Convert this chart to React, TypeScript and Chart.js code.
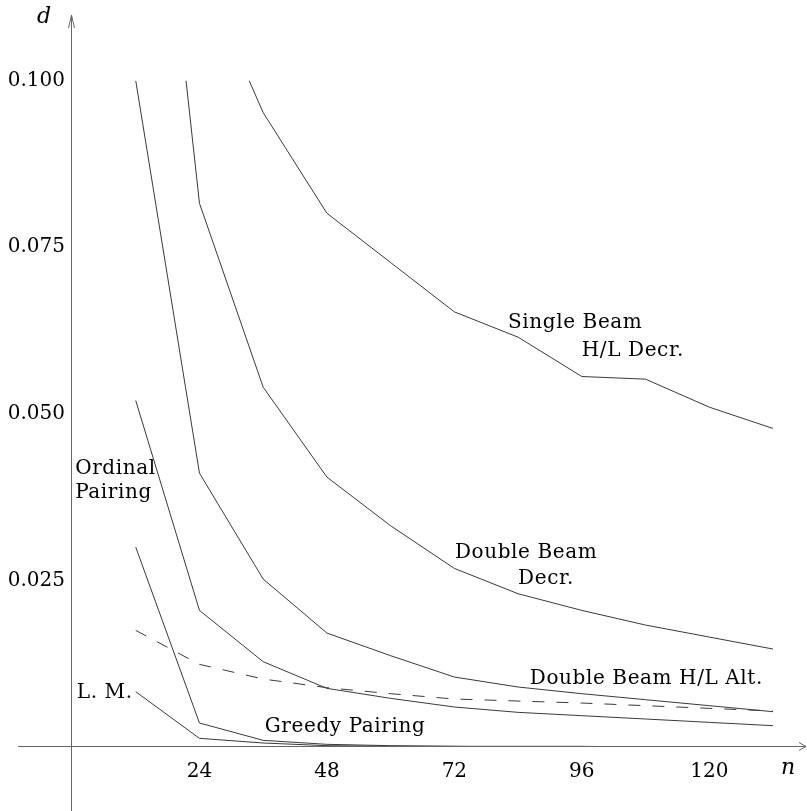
import React, { useEffect, useRef } from "react";
import { Chart, registerables } from "chart.js";

Chart.register(...registerables);

// ---- data ----
const nValues = [12, 24, 36, 48, 60, 72, 84, 96, 108, 120, 132];
const singleBeamHLDecr = [null, 0.117, 0.0952, 0.0801, 0.0727, 0.0653, 0.0615, 0.0556, 0.0552, 0.051, 0.0478];
const doubleBeamDecr = [0.169, 0.0816, 0.054, 0.0405, 0.0332, 0.0268, 0.023, 0.0205, 0.0183, 0.0165, 0.0147];
const doubleBeamHLAlt = [0.1, 0.0411, 0.0252, 0.0171, 0.0137, 0.0105, 0.009, 0.008, 0.0071, 0.0062, 0.0053];
const dashedCurve = [0.0175, 0.0124, 0.0102, 0.0089, 0.008, 0.0072, 0.0069, 0.0066, 0.0062, 0.0058, 0.0054];
const ordinalPairing = [0.052, 0.0205, 0.0128, 0.0088, 0.0073, 0.006, 0.0052, 0.0047, 0.0042, 0.0037, 0.0032];
const greedyPairing = [0.03, 0.0036, 0.001, 0.0004, 0.0002, 0.0001, 0.0001, 0.0001, 0.0, 0.0, 0.0];
const lowerLM = [0.0083, 0.0013, 0.0006, 0.0002, 0.0001, 0.0001, 0.0, 0.0, 0.0, 0.0, 0.0];

const xTicks = [24, 48, 72, 96, 120];
const yTicks = [0.025, 0.05, 0.075, 0.1];
const plotRangeMax = 0.1;

// curve annotations (text, n, d)
const labelTexts = ["Single Beam", "H/L Decr.", "Double Beam", "Decr.", "Double Beam H/L Alt.", "Ordinal", "Pairing", "L. M.", "Greedy Pairing"];
const labelN = [82.1, 96.0, 72.1, 84.0, 86.2, 0.6, 0.6, 0.9, 36.3];
const labelD = [0.0637, 0.0595, 0.0291, 0.0253, 0.0103, 0.0418, 0.0382, 0.0081, 0.003];

const FONT = "'DejaVu Serif', serif";
const LINE = "#3a3a3a";
const AXIS = "#666";

const toPts = (arr: (number | null)[]) => nValues.map((n, i) => ({ x: n, y: arr[i] }));

const clipPlugin = {
  id: "clipTop",
  beforeDatasetsDraw(chart: any) {
    const { ctx, chartArea } = chart;
    const top = chart.scales.y.getPixelForValue(plotRangeMax);
    ctx.save();
    ctx.beginPath();
    ctx.rect(chartArea.left, top, chartArea.right - chartArea.left, chartArea.bottom - top + 2);
    ctx.clip();
  },
  afterDatasetsDraw(chart: any) {
    chart.ctx.restore();
  },
};

const decorPlugin = {
  id: "decor",
  afterDraw(chart: any) {
    const { ctx, scales } = chart;
    const x0 = Math.round(scales.x.getPixelForValue(0)) - 0.5;
    const y0 = Math.round(scales.y.getPixelForValue(0)) - 0.5;
    const yTop = 15;
    ctx.save();
    ctx.strokeStyle = AXIS;
    ctx.lineWidth = 1;
    // x axis
    ctx.beginPath();
    ctx.moveTo(18, y0);
    ctx.lineTo(chart.width - 1, y0);
    ctx.stroke();
    // x arrow
    ctx.beginPath();
    ctx.moveTo(chart.width - 8, y0 - 4);
    ctx.lineTo(chart.width - 1, y0);
    ctx.lineTo(chart.width - 8, y0 + 4);
    ctx.stroke();
    // y axis
    ctx.beginPath();
    ctx.moveTo(x0, yTop);
    ctx.lineTo(x0, chart.height);
    ctx.stroke();
    // y arrow
    ctx.beginPath();
    ctx.moveTo(x0 - 3, yTop + 13);
    ctx.lineTo(x0, yTop);
    ctx.lineTo(x0 + 3, yTop + 13);
    ctx.stroke();

    // axis names
    ctx.fillStyle = "#000";
    ctx.font = "italic 22px " + FONT;
    ctx.textAlign = "center";
    ctx.textBaseline = "middle";
    ctx.fillText("d", 44, 17);
    ctx.fillText("n", 788, 768);

    // curve labels
    ctx.font = "20px " + FONT;
    try {
      (ctx as any).letterSpacing = "0.6px";
    } catch (e) {}
    ctx.textAlign = "left";
    ctx.textBaseline = "middle";
    labelTexts.forEach((t, i) => {
      const px = scales.x.getPixelForValue(labelN[i]);
      const py = scales.y.getPixelForValue(labelD[i]);
      ctx.fillText(t, px, py);
    });
    try {
      (ctx as any).letterSpacing = "0px";
    } catch (e) {}
    ctx.restore();
  },
};

export default function App() {
  const ref = useRef<HTMLCanvasElement | null>(null);
  useEffect(() => {
    document.body.style.margin = "0";
    const canvas = ref.current;
    if (!canvas) return;
    const solid = (label: string, arr: (number | null)[]) => ({
      label,
      data: toPts(arr),
      borderColor: LINE,
      borderWidth: 1,
      pointRadius: 0,
      tension: 0,
      fill: false,
    });
    const chart = new Chart(canvas, {
      type: "line",
      data: {
        datasets: [
          solid("Single Beam H/L Decr.", singleBeamHLDecr),
          solid("Double Beam Decr.", doubleBeamDecr),
          solid("Double Beam H/L Alt.", doubleBeamHLAlt),
          { ...solid("Dashed", dashedCurve), borderDash: [12, 12] },
          solid("Ordinal Pairing", ordinalPairing),
          solid("Greedy Pairing", greedyPairing),
          solid("L. M.", lowerLM),
        ],
      },
      options: {
        responsive: false,
        animation: false,
        devicePixelRatio: 1,
        layout: { padding: { top: 14, left: 0, right: 0, bottom: 0 } },
        plugins: { legend: { display: false }, tooltip: { enabled: false } },
        scales: {
          x: {
            type: "linear",
            min: 0,
            max: 138.4,
            grid: { display: false, drawTicks: false },
            border: { display: false },
            ticks: { color: "#000", font: { family: FONT, size: 20 }, padding: 13, autoSkip: false, maxRotation: 0 },
            afterBuildTicks: (s: any) => {
              s.ticks = xTicks.map((v) => ({ value: v }));
            },
            afterFit: (s: any) => {
              s.height = 64;
              s.paddingLeft = 0;
              s.paddingRight = 0;
            },
          },
          y: {
            type: "linear",
            min: 0,
            max: 0.11,
            grid: { display: false, drawTicks: false },
            border: { display: false },
            ticks: {
              color: "#000",
              font: { family: FONT, size: 20 },
              padding: 7,
              autoSkip: false,
              callback: (v: any) => Number(v).toFixed(3),
            },
            afterBuildTicks: (s: any) => {
              s.ticks = yTicks.map((v) => ({ value: v }));
            },
            afterFit: (s: any) => {
              s.width = 72;
              s.paddingTop = 0;
              s.paddingBottom = 0;
            },
          },
        },
      },
      plugins: [clipPlugin, decorPlugin],
    } as any);
    return () => chart.destroy();
  }, []);
  return (
    <div style={{ position: "fixed", left: 0, top: 0, width: 807, height: 811, background: "#fff" }}>
      <canvas ref={ref} width={807} height={811} style={{ display: "block" }} />
    </div>
  );
}
